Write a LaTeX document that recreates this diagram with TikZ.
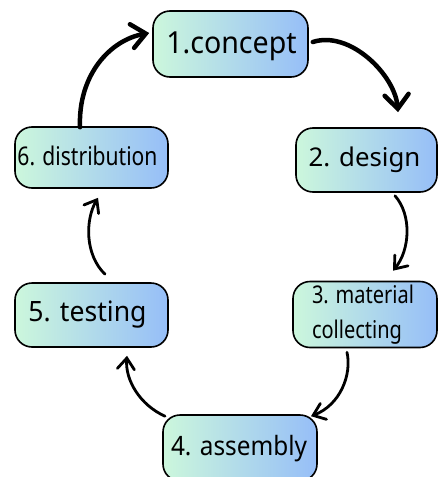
\documentclass[tikz,border=0pt]{standalone}
\usepackage{fontspec}
\setmainfont{Noto Sans}
\usetikzlibrary{arrows.meta,calc}
\definecolor{mintL}{RGB}{204,247,220}
\definecolor{blueR}{RGB}{150,190,248}
% narrow a label horizontally
\newcommand{\narrow}[2]{\scalebox{#1}[1]{#2}}
\begin{document}
\begin{tikzpicture}[x=1pt,y=-1pt,
  stage/.style={draw=black, line width=1.6pt, rounded corners=17pt,
    left color=mintL, right color=blueR, inner sep=0pt, text depth=0pt},
  bigflow/.style={line width=4.5pt, line cap=round,
    -{Straight Barb[length=14pt,width=24pt,line cap=round]}},
  flow/.style={line width=2.8pt, line cap=round,
    -{Straight Barb[length=11pt,width=17pt,line cap=round]}}]
\clip (0,0) rectangle (439,477);

% the six stages of the cycle
\node[stage, minimum width=155pt, minimum height=66pt, text height=18.6pt,
  font=\fontsize{30.4}{36}\selectfont]
  (c1) at (230.5,44) {\hspace*{2pt}\narrow{0.94}{1.concept}};
\node[stage, minimum width=141pt, minimum height=64pt, text height=13.4pt,
  font=\fontsize{25.8}{31}\selectfont]
  (c2) at (366.5,160) {\hspace*{-4pt}\narrow{1.0}{2. design}};
\node[stage, minimum width=144pt, minimum height=66pt, text height=0pt, text depth=21.6pt,
  font=\fontsize{24.4}{34.3}\selectfont]
  (c3) at (365,314.5) {\hspace*{-4pt}\narrow{0.82}{\begin{tabular}[t]{@{}l@{}}3. material\\collecting\end{tabular}}};
\node[stage, minimum width=154pt, minimum height=66pt, text height=15pt,
  font=\fontsize{26.6}{32}\selectfont]
  (c4) at (240,448) {\hspace*{-2pt}\narrow{0.915}{4. assembly}};
\node[stage, minimum width=153pt, minimum height=64pt, text height=13.4pt,
  font=\fontsize{28}{34}\selectfont]
  (c5) at (91.5,315) {\hspace*{-8pt}\narrow{0.95}{5. testing}};
\node[stage, minimum width=153pt, minimum height=61pt, text height=15pt,
  font=\fontsize{25.7}{31}\selectfont]
  (c6) at (91.5,157.5) {\hspace*{-8pt}\narrow{0.82}{6. distribution}};

% curved arrows between consecutive stages
\draw[bigflow] ([xshift=4pt,yshift=2pt]c1.east)
  .. controls (350,30) and (395,75) .. ([xshift=31.5pt,yshift=15pt]c2.north);
\draw[flow] ([xshift=28.5pt,yshift=-3pt]c2.south)
  .. controls (412,215) and (410,250) .. ([xshift=28pt,yshift=10pt]c3.north);
\draw[flow] ([xshift=-18pt,yshift=-4pt]c3.south)
  .. controls (352,375) and (340,405) .. ([xshift=71pt,yshift=-2pt]c4.north);
\draw[flow] ([xshift=-75pt,yshift=-2pt]c4.north)
  .. controls (140,405) and (125,380) .. ([xshift=35.5pt,yshift=-8pt]c5.south);
\draw[flow] ([xshift=13.5pt,yshift=8pt]c5.north)
  .. controls (85,255) and (85,220) .. ([xshift=6.5pt,yshift=-9pt]c6.south);
\draw[bigflow] ([xshift=-11.5pt,yshift=-1pt]c6.north)
  .. controls (78,75) and (110,40) .. ([xshift=-3pt,yshift=11pt]c1.west);
\end{tikzpicture}
\end{document}
